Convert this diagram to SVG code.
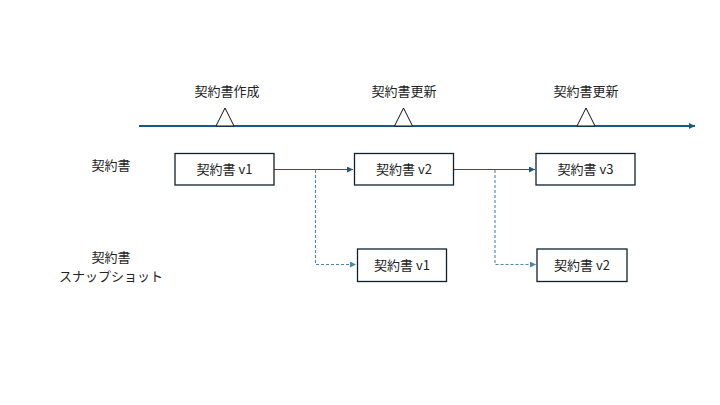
<svg xmlns="http://www.w3.org/2000/svg" width="720" height="405" viewBox="0 0 720 405">
<style>
text{font-family:"Noto Sans CJK JP","Noto Sans",sans-serif;font-size:13px;fill:#222;text-anchor:middle}
.box{fill:#fff;stroke:#10202c;stroke-width:1.3}
.tri{fill:#fff;stroke:#111;stroke-width:1}
.solid{fill:none;stroke:#1f5a7e;stroke-width:1.1}
.dash{fill:none;stroke:#4f86a8;stroke-width:1.1;stroke-dasharray:3,2}
</style>
<defs>
<marker id="ah" markerWidth="8" markerHeight="8" refX="6" refY="3" orient="auto" markerUnits="userSpaceOnUse"><path d="M0,0 L6,3 L0,6 Z" fill="#1f5a7e"/></marker>
<marker id="ahd" markerWidth="8" markerHeight="8" refX="6" refY="3" orient="auto" markerUnits="userSpaceOnUse"><path d="M0,0 L6,3 L0,6 Z" fill="#4f86a8"/></marker>
<marker id="aht" markerWidth="8" markerHeight="8" refX="6" refY="3" orient="auto" markerUnits="userSpaceOnUse"><path d="M0,0 L6,3 L0,6 Z" fill="#1a5a7e"/></marker>
</defs>
<g id="timeline">
<line x1="139" y1="126" x2="695" y2="126" stroke="#1a5a7e" stroke-width="2" marker-end="url(#aht)"/>
<path class="tri" d="M216,126 L225,108 L234,126 Z"/>
<path class="tri" d="M394.5,126 L403.5,108 L412.5,126 Z"/>
<path class="tri" d="M577,126 L586,108 L595,126 Z"/>
<text x="227" y="96">契約書作成</text>
<text x="404" y="96">契約書更新</text>
<text x="586" y="96">契約書更新</text>
</g>
<g id="row-labels">
<text x="111" y="170">契約書</text>
<text x="111" y="262">契約書<tspan x="111" dy="19">スナップショット</tspan></text>
</g>
<g id="connectors">
<line class="solid" x1="274" y1="169.5" x2="353" y2="169.5" marker-end="url(#ah)"/>
<line class="solid" x1="453" y1="169.5" x2="535" y2="169.5" marker-end="url(#ah)"/>
<path class="dash" d="M315.5,170 V264.5 H356" marker-end="url(#ahd)"/>
<path class="dash" d="M495,170 V264.5 H536" marker-end="url(#ahd)"/>
</g>
<g id="node-v1">
<rect class="box" x="175" y="153.5" width="99" height="31.5"/>
<text x="224.5" y="174">契約書 v1</text>
</g>
<g id="node-v2">
<rect class="box" x="354.5" y="153.5" width="99" height="31.5"/>
<text x="404" y="174">契約書 v2</text>
</g>
<g id="node-v3">
<rect class="box" x="536" y="153.5" width="99" height="31.5"/>
<text x="585.5" y="174">契約書 v3</text>
</g>
<g id="snap-v1">
<rect class="box" x="357.5" y="249" width="89" height="32.5"/>
<text x="402" y="270">契約書 v1</text>
</g>
<g id="snap-v2">
<rect class="box" x="537" y="249" width="90" height="32.5"/>
<text x="582" y="270">契約書 v2</text>
</g>
</svg>
